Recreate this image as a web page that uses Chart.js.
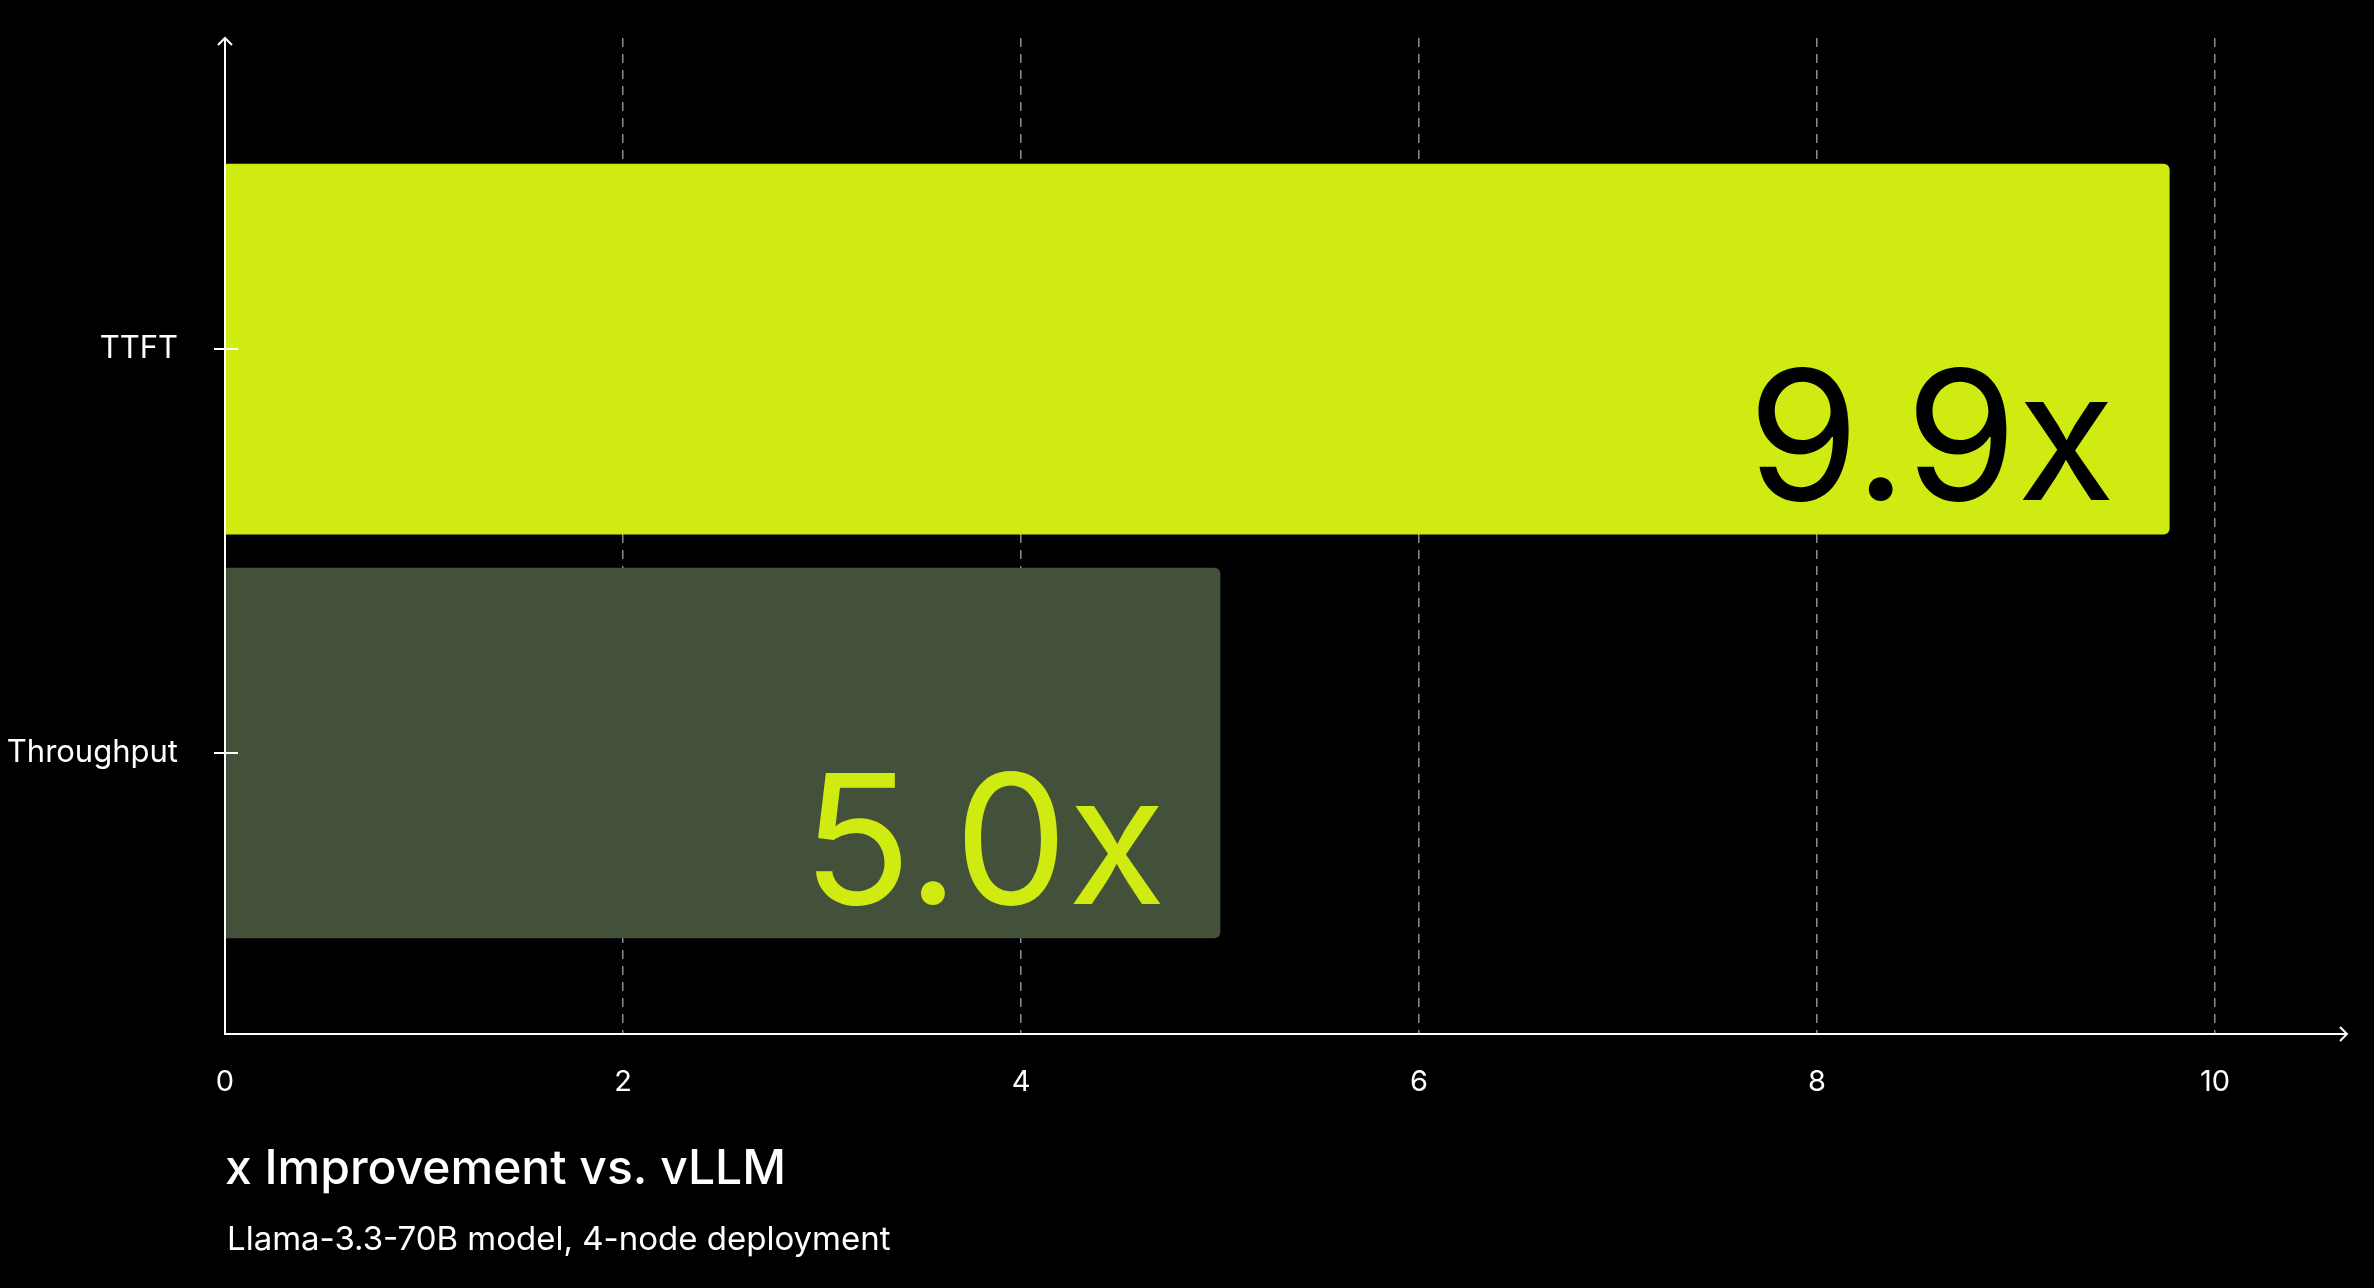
<!DOCTYPE html>
<html>
<head>
<meta charset="utf-8">
<script src="https://cdn.jsdelivr.net/npm/chart.js@4.4.1/dist/chart.umd.min.js"></script>
<style>
  body { margin: 0; background: #000; }
  canvas { display: block; }
</style>
</head>
<body>
<canvas id="barChart" width="2374" height="1288"></canvas>
<script>
// data
const categories = ['TTFT', 'Throughput'];
const improvement = [9.77, 5.0];      // bar lengths as drawn
const valueLabels = ['9.9x', '5.0x'];  // printed values
const xTicks = [0, 2, 4, 6, 8, 10];
const titleText = 'x Improvement vs. vLLM';
const subtitleText = 'Llama-3.3-70B model, 4-node deployment';

const lime = '#cfeb12';
const moss = '#44513a';
const fontFamily = 'Inter, "Liberation Sans", sans-serif';

// axes, arrows, tick marks, big labels and the footer text
const decorations = {
  id: 'decorations',
  afterDatasetsDraw(chart) {
    const ctx = chart.ctx;
    const area = chart.chartArea;
    const meta = chart.getDatasetMeta(0);
    ctx.save();

    ctx.font = '180px ' + fontFamily;
    ctx.textAlign = 'right';
    ctx.textBaseline = 'alphabetic';
    meta.data.forEach((bar, i) => {
      ctx.fillStyle = i === 0 ? '#000' : lime;
      ctx.fillText(valueLabels[i], bar.x - 54, bar.y + bar.height / 2 - 34);
    });

    ctx.strokeStyle = '#fff';
    ctx.lineWidth = 2;
    ctx.beginPath();
    ctx.moveTo(area.left, area.top);
    ctx.lineTo(area.left, area.bottom);
    ctx.lineTo(area.right, area.bottom);
    // arrow heads
    ctx.moveTo(area.left - 7, area.top + 7);
    ctx.lineTo(area.left, area.top);
    ctx.lineTo(area.left + 7, area.top + 7);
    ctx.moveTo(area.right - 7, area.bottom - 7);
    ctx.lineTo(area.right, area.bottom);
    ctx.lineTo(area.right - 7, area.bottom + 7);
    // y tick marks
    const yScale = chart.scales.y;
    yScale.ticks.forEach(t => {
      const y = yScale.getPixelForValue(t.value);
      ctx.moveTo(area.left - 11, y);
      ctx.lineTo(area.left + 13, y);
    });
    ctx.stroke();
    ctx.restore();
  },
  afterDraw(chart) {
    const ctx = chart.ctx;
    const left = chart.chartArea.left;
    ctx.save();
    ctx.fillStyle = '#fff';
    ctx.textAlign = 'left';
    ctx.textBaseline = 'alphabetic';
    ctx.font = '500 48px ' + fontFamily;
    ctx.fillText(titleText, left, 1184);
    ctx.font = '33px ' + fontFamily;
    ctx.fillText(subtitleText, left + 2, 1250);
    ctx.restore();
  }
};

const ctx = document.getElementById('barChart').getContext('2d');
const chart = new Chart(ctx, {
  type: 'bar',
  data: {
    datasets: [{
      data: categories.map((c, i) => ({ x: improvement[i], y: i })),
      backgroundColor: [lime, moss],
      borderRadius: 6,
      borderSkipped: 'start',
      barThickness: 370
    }]
  },
  options: {
    indexAxis: 'y',
    responsive: false,
    animation: false,
    layout: { padding: { top: 38, right: 27, left: 0, bottom: 0 } },
    plugins: {
      legend: { display: false },
      tooltip: { enabled: false }
    },
    scales: {
      x: {
        type: 'linear',
        min: 0,
        max: 10.663,
        afterBuildTicks: scale => { scale.ticks = xTicks.map(v => ({ value: v })); },
        afterFit: scale => { scale.height = 254; },
        grid: {
          color: 'rgba(150,156,168,0.9)',
          lineWidth: 1.5,
          drawTicks: false
        },
        border: { display: false, dash: [9, 7] },
        ticks: {
          color: '#fff',
          padding: 31,
          maxRotation: 0,
          font: { family: fontFamily, size: 29 }
        }
      },
      y: {
        type: 'linear',
        reverse: true,
        offset: false,
        min: -0.77,
        max: 1.6955,
        afterBuildTicks: scale => { scale.ticks = categories.map((c, i) => ({ value: i })); },
        afterFit: scale => { scale.width = 225; },
        // invisible tick marks only to keep the labels off the axis
        grid: {
          drawOnChartArea: false,
          drawTicks: true,
          tickLength: 47,
          color: 'rgba(0,0,0,0)',
          offset: false
        },
        border: { display: false },
        ticks: {
          color: '#fff',
          padding: 0,
          callback: v => categories[v],
          font: { family: fontFamily, size: 31 }
        }
      }
    }
  },
  plugins: [decorations]
});
</script>
</body>
</html>
